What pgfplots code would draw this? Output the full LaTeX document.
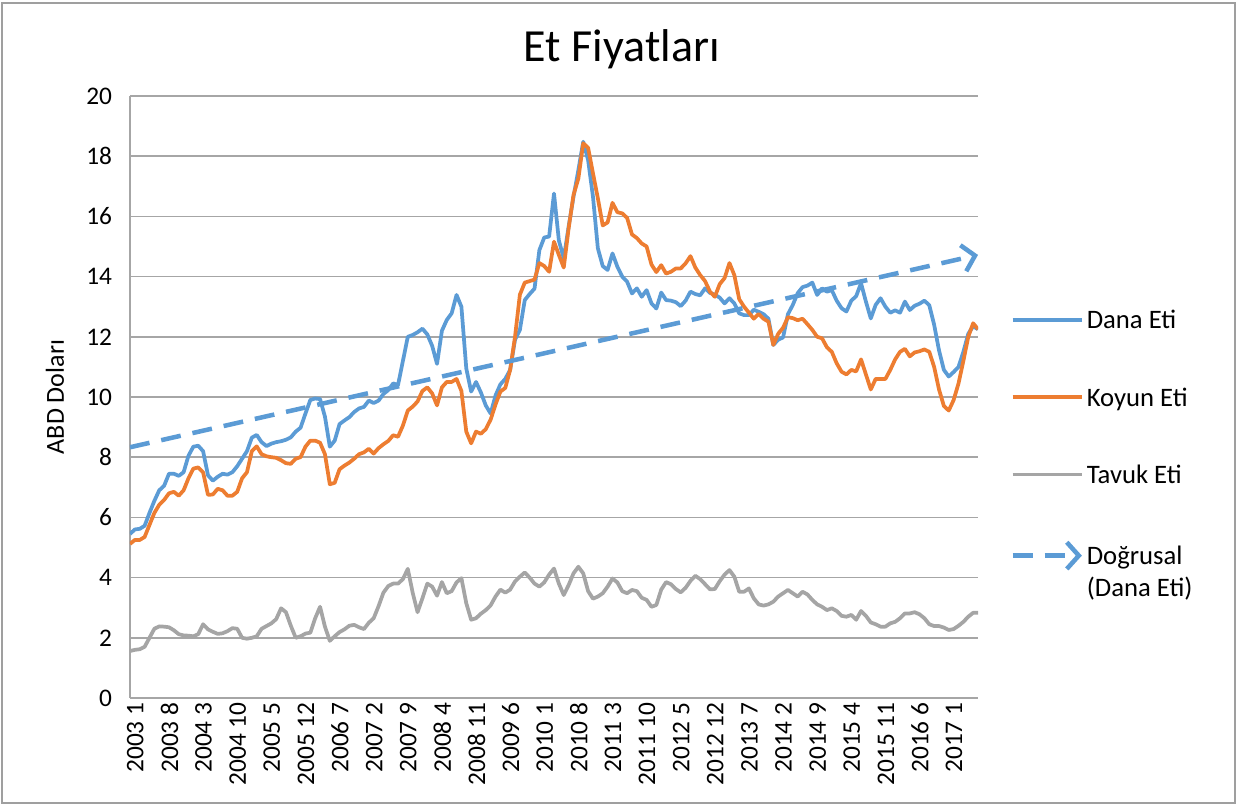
\documentclass[border=0pt]{standalone}
\usepackage{pgfplots}
\pgfplotsset{compat=1.18}
\usepackage{pgfplotstable}
\usepackage{fontspec}
\setmainfont{Carlito}
\usetikzlibrary{arrows.meta}
\definecolor{dana}{HTML}{5B9BD5}
\definecolor{koyun}{HTML}{ED7D31}
\definecolor{tavuk}{HTML}{A5A5A5}
\definecolor{gridc}{HTML}{A6A6A6}

\pgfplotstableread{
i d k t
0 5.45 5.12 1.56
1 5.60 5.25 1.60
2 5.62 5.25 1.62
3 5.72 5.35 1.70
4 6.15 5.75 2.00
5 6.55 6.15 2.30
6 6.90 6.42 2.38
7 7.05 6.58 2.37
8 7.45 6.80 2.35
9 7.45 6.85 2.25
10 7.38 6.72 2.12
11 7.50 6.90 2.08
12 8.05 7.30 2.07
13 8.35 7.62 2.05
14 8.38 7.66 2.12
15 8.20 7.50 2.45
16 7.40 6.75 2.28
17 7.22 6.76 2.20
18 7.35 6.95 2.13
19 7.45 6.90 2.15
20 7.42 6.72 2.22
21 7.50 6.72 2.32
22 7.70 6.85 2.30
23 7.95 7.30 2.00
24 8.20 7.50 1.97
25 8.65 8.20 2.00
26 8.74 8.36 2.05
27 8.50 8.10 2.30
28 8.37 8.03 2.39
29 8.45 8.00 2.48
30 8.50 7.98 2.62
31 8.53 7.90 2.98
32 8.58 7.80 2.85
33 8.66 7.78 2.40
34 8.85 7.95 2.00
35 8.98 8.00 2.05
36 9.45 8.35 2.14
37 9.90 8.55 2.17
38 9.95 8.55 2.65
39 9.93 8.48 3.03
40 9.35 8.10 2.37
41 8.35 7.10 1.90
42 8.55 7.15 2.05
43 9.10 7.60 2.19
44 9.22 7.72 2.28
45 9.33 7.82 2.40
46 9.50 7.95 2.43
47 9.62 8.10 2.35
48 9.67 8.16 2.29
49 9.88 8.28 2.50
50 9.80 8.12 2.65
51 9.88 8.30 3.05
52 10.10 8.43 3.50
53 10.23 8.54 3.72
54 10.45 8.73 3.80
55 10.40 8.68 3.80
56 11.20 9.05 3.95
57 12.00 9.55 4.29
58 12.06 9.68 3.50
59 12.15 9.85 2.85
60 12.27 10.20 3.31
61 12.08 10.32 3.80
62 11.70 10.12 3.70
63 11.10 9.72 3.40
64 12.20 10.32 3.85
65 12.56 10.50 3.48
66 12.78 10.50 3.55
67 13.39 10.60 3.84
68 13.00 10.20 3.98
69 10.95 8.85 3.15
70 10.18 8.46 2.60
71 10.50 8.85 2.65
72 10.15 8.78 2.80
73 9.72 8.93 2.92
74 9.45 9.25 3.08
75 10.05 9.75 3.37
76 10.42 10.18 3.60
77 10.60 10.30 3.50
78 10.90 10.90 3.60
79 11.90 12.00 3.87
80 12.23 13.40 4.03
81 13.22 13.80 4.17
82 13.42 13.85 4.00
83 13.60 13.90 3.80
84 14.88 14.45 3.70
85 15.30 14.35 3.84
86 15.33 14.16 4.10
87 16.76 15.16 4.30
88 15.20 14.72 3.80
89 14.60 14.30 3.42
90 15.66 15.60 3.75
91 16.65 16.71 4.14
92 17.54 17.26 4.36
93 18.48 18.43 4.14
94 17.87 18.28 3.55
95 16.65 17.43 3.30
96 14.94 16.60 3.37
97 14.35 15.70 3.48
98 14.22 15.80 3.70
99 14.77 16.45 3.97
100 14.33 16.14 3.84
101 14.00 16.10 3.55
102 13.83 15.95 3.48
103 13.44 15.40 3.59
104 13.61 15.28 3.55
105 13.33 15.10 3.33
106 13.55 15.00 3.26
107 13.11 14.40 3.03
108 12.94 14.15 3.09
109 13.47 14.38 3.60
110 13.22 14.10 3.85
111 13.20 14.16 3.78
112 13.15 14.27 3.62
113 13.02 14.27 3.51
114 13.20 14.44 3.66
115 13.50 14.68 3.89
116 13.42 14.30 4.06
117 13.38 14.05 3.95
118 13.61 13.85 3.78
119 13.46 13.50 3.61
120 13.40 13.33 3.62
121 13.30 13.75 3.88
122 13.11 13.95 4.10
123 13.28 14.45 4.25
124 13.11 14.05 4.03
125 12.78 13.25 3.53
126 12.72 13.00 3.53
127 12.72 12.80 3.64
128 12.90 12.60 3.31
129 12.83 12.76 3.11
130 12.75 12.60 3.07
131 12.60 12.50 3.11
132 11.73 11.73 3.20
133 11.90 12.10 3.37
134 11.98 12.30 3.48
135 12.75 12.65 3.59
136 13.06 12.62 3.48
137 13.45 12.55 3.37
138 13.65 12.60 3.53
139 13.70 12.42 3.44
140 13.80 12.23 3.26
141 13.39 12.00 3.11
142 13.61 11.95 3.03
143 13.50 11.65 2.92
144 13.55 11.50 2.98
145 13.20 11.12 2.89
146 12.95 10.84 2.73
147 12.84 10.75 2.70
148 13.20 10.90 2.76
149 13.35 10.85 2.60
150 13.78 11.25 2.89
151 13.17 10.75 2.73
152 12.61 10.25 2.51
153 13.06 10.60 2.45
154 13.28 10.60 2.37
155 13.00 10.60 2.37
156 12.80 10.90 2.48
157 12.88 11.25 2.53
158 12.80 11.50 2.65
159 13.17 11.60 2.81
160 12.89 11.35 2.81
161 13.03 11.48 2.85
162 13.10 11.52 2.78
163 13.20 11.58 2.65
164 13.05 11.50 2.45
165 12.40 11.00 2.39
166 11.55 10.25 2.39
167 10.90 9.70 2.34
168 10.68 9.55 2.26
169 10.83 9.90 2.29
170 11.00 10.45 2.40
171 11.50 11.20 2.53
172 12.10 12.00 2.70
173 12.35 12.45 2.83
174 12.25 12.25 2.83
}\meat

\pgfplotstableread{
i v
0 8.33
174 14.72
}\trend

\begin{document}
\begin{tikzpicture}
\useasboundingbox (-97.5pt,-80.25pt) rectangle (831pt,523.5pt);
\draw[gray!75, line width=1pt] (-96pt,-78.75pt) rectangle (828.75pt,521.25pt);
\begin{axis}[
  at={(0pt,0pt)}, anchor=south west,
  scale only axis, width=636pt, height=451.5pt,
  xmin=0, xmax=174, ymin=0, ymax=20,
  axis x line*=bottom, axis y line*=left,
  axis line style={-, gridc, line width=1.5pt},
  ytick={0,2,...,20},
  ymajorgrids, major grid style={gridc, line width=1.2pt},
  major tick length=0pt,
  xtick={0,7,...,168},
  xticklabels={2003 1,2003 8,2004 3,2004 10,2005 5,2005 12,2006 7,2007 2,2007 9,2008 4,2008 11,2009 6,2010 1,2010 8,2011 3,2011 10,2012 5,2012 12,2013 7,2014 2,2014 9,2015 4,2015 11,2016 6,2017 1},
  /pgf/number format/assume math mode=true,
  xticklabel style={rotate=90, anchor=east, font=\fontsize{19}{22}\selectfont, yshift=-4pt},
  yticklabel style={anchor=east, font=\fontsize{19}{22}\selectfont, xshift=-10pt},
  title={Et Fiyatları},
  title style={font=\fontsize{34.5}{40}\selectfont, at={(axis description cs:0.58,1)}, anchor=base, yshift=19.5pt},
  ylabel={ABD Doları},
  every axis y label/.style={at={(axis description cs:-0.0884,0.5)}, rotate=90, anchor=center, font=\fontsize{19.5}{23}\selectfont},
  legend style={draw=none, fill=none, at={(axis description cs:1.033,0.653)}, anchor=north west, font=\fontsize{20}{24}\selectfont, row sep=38.5pt, cells={anchor=base west}},
  legend image code/.code={\draw[#1] (0pt,6.5pt) -- (52pt,6.5pt);},
]
\addplot[dana, line width=2.8pt, line join=round] table[x=i, y=d] {\meat};
\addlegendentry{Dana Eti}
\addplot[koyun, line width=2.8pt, line join=round] table[x=i, y=k] {\meat};
\addlegendentry{Koyun Eti}
\addplot[tavuk, line width=2.8pt, line join=round] table[x=i, y=t] {\meat};
\addlegendentry{Tavuk Eti}
\addplot[dana, line width=3.4pt, dash pattern=on 15pt off 9pt, -{Straight Barb[length=9pt,width=20pt]}] table[x=i, y=v] {\trend};
\addlegendentry{\begin{tabular}[t]{@{}l@{}}Doğrusal\\[0.5pt](Dana Eti)\end{tabular}}
\end{axis}
\end{tikzpicture}
\end{document}
